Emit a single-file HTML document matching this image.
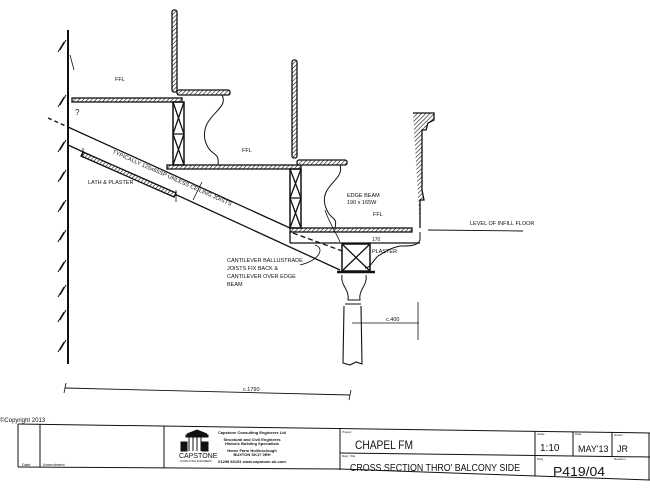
<!DOCTYPE html>
<html><head><style>
html,body{margin:0;padding:0;background:#fff;}
svg{display:block;}
text{font-family:"Liberation Sans",sans-serif;fill:#111;}
.h{font-family:"Liberation Sans",sans-serif;font-size:6px;}
</style></head><body>
<svg width="650" height="488" viewBox="0 0 650 488" xmlns="http://www.w3.org/2000/svg">
<defs>
<pattern id="hat" width="3" height="3" patternUnits="userSpaceOnUse" patternTransform="rotate(45)">
<rect width="3" height="3" fill="#fff"/><line x1="0" y1="0" x2="0" y2="3" stroke="#111" stroke-width="1.2"/></pattern>
</defs>
<g stroke="#111" fill="none" stroke-width="1.3">
<!-- wall -->
<line x1="68" y1="30" x2="68" y2="364" stroke-width="2"/>
<line x1="70" y1="55" x2="74" y2="70" stroke-width="0.8"/>
<g stroke-width="1">
<path d="M66 40l-6 10M64 42l-6 10M66 95l-6 10M64 97l-6 10M66 140l-6 10M64 142l-6 10M66 170l-6 10M64 172l-6 10M66 200l-6 10M64 202l-6 10M66 230l-6 10M64 232l-6 10M66 260l-6 10M64 262l-6 10M66 285l-6 10M64 287l-6 10M66 310l-6 10M64 312l-6 10M66 340l-6 10M64 342l-6 10"/>
</g>
<!-- floors -->
<rect x="72" y="98" width="110" height="4" fill="url(#hat)"/>
<rect x="167" y="165" width="134" height="4" fill="url(#hat)"/>
<rect x="290" y="228" width="122" height="4" fill="url(#hat)"/>
<!-- posts with X -->
<rect x="173" y="102" width="11" height="63" stroke-width="1.5"/>
<path d="M173 102L184 134M184 102L173 134M173 134L184 165M184 134L173 165M173 134H184"/>
<rect x="290" y="169" width="11" height="59" stroke-width="1.5"/>
<path d="M290 169L301 198M301 169L290 198M290 198L301 228M301 198L290 228M290 198H301"/>
<!-- seat backs -->
<rect x="172" y="10" width="5" height="82" fill="url(#hat)" rx="2"/>
<rect x="292" y="60" width="5" height="98" fill="url(#hat)" rx="2"/>
<rect x="177" y="90" width="53" height="5" fill="url(#hat)" rx="2"/>
<rect x="297" y="160" width="50" height="5" fill="url(#hat)" rx="2"/>
<path d="M222 95C230 110 200 115 205 140C210 158 220 150 218 165" stroke-width="1"/>
<path d="M340 165C345 180 320 185 325 205C330 222 338 215 335 228" stroke-width="1"/>
<!-- front wall -->
<path d="M413 113H434V120L428 123L426 130H422V190L424 200H420V228" fill="url(#hat)"/>
<path d="M420 232V240C418 246 410 246 400 246C390 248 385 252 378 256C372 262 370 268 365 268" stroke-width="1"/>
<line x1="290" y1="232" x2="290" y2="243"/>
<line x1="290" y1="243" x2="420" y2="243"/>
<!-- joists -->
<line x1="68" y1="127" x2="290" y2="228"/>
<line x1="68" y1="145" x2="340" y2="270"/>
<line x1="48" y1="118" x2="68" y2="127" stroke-dasharray="4 3"/>
<line x1="293" y1="233" x2="345" y2="252" stroke-dasharray="5 3"/>
<path d="M83 152L176 193L174 197L81 156Z" fill="url(#hat)"/>
<line x1="83" y1="148" x2="83" y2="158" stroke-width="0.8"/>
<line x1="176" y1="190" x2="176" y2="202" stroke-width="0.8"/>
<!-- box and column -->
<rect x="342" y="244" width="28" height="27" stroke-width="1.5"/>
<path d="M342 244L370 271M370 244L342 271"/>
<line x1="337" y1="272" x2="375" y2="272" stroke-width="2.5"/>
<path d="M342 275C340 285 350 290 348 300H360C358 290 368 285 366 275" stroke-width="1"/>
<path d="M345 304H361M344 306L343 363L350 365L356 362L362 364L361 306" stroke-width="1.1"/>
<!-- dimensions -->
<line x1="352" y1="323" x2="419" y2="323" stroke-width="0.8"/>
<line x1="418" y1="302" x2="418" y2="340" stroke-width="0.8"/>
<line x1="428" y1="230" x2="523" y2="231" stroke-width="0.9"/>
<line x1="65" y1="388" x2="350" y2="395" stroke-width="0.9"/>
<line x1="66" y1="383" x2="64" y2="393" stroke-width="0.8"/>
<line x1="351" y1="390" x2="349" y2="400" stroke-width="0.8"/>
<path d="M202 182L193 200M315 245C325 248 320 260 300 265M325 210C330 225 335 230 340 242" stroke-width="0.8"/>
<!-- title block -->
<g stroke-width="1">
<path d="M18 424L650 433"/>
<path d="M18 467L340 469L650 480"/>
<line x1="18" y1="424" x2="18" y2="467"/>
<line x1="40" y1="424" x2="40" y2="467"/>
<line x1="164" y1="426" x2="164" y2="468"/>
<line x1="340" y1="428" x2="340" y2="470"/>
<line x1="340" y1="453" x2="650" y2="457"/>
<line x1="535" y1="431" x2="535" y2="476"/>
<line x1="573" y1="432" x2="573" y2="456"/>
<line x1="612" y1="432" x2="612" y2="457"/>
<line x1="649" y1="433" x2="649" y2="480"/>
</g>
<!-- logo -->
<g stroke-width="1" fill="#111">
<path d="M187 434L197 430L207 434Z"/>
<rect x="186" y="435" width="22" height="2"/>
<rect x="181" y="442" width="6" height="9"/><rect x="202" y="442" width="6" height="9"/>
<path d="M189 437V451M193 437V451M197 437V451M201 437V451" fill="none"/>
</g>
</g>
<text x="0" y="422" class="h" font-size="4">©Copyright 2013</text>
<text x="22" y="466" font-size="4">Date</text>
<text x="43" y="466" font-size="4">Amendment</text>
<text x="179" y="458" font-size="7" font-family="Liberation Serif">CAPSTONE</text>
<text x="180" y="462" font-size="2.5">CONSULTING ENGINEERS</text>
<g font-size="4" font-family="Liberation Serif" text-anchor="middle" font-weight="bold">
<text x="252" y="434">Capstone Consulting Engineers Ltd</text>
<text x="252" y="441">Structural and Civil Engineers</text>
<text x="252" y="445">Historic Building Specialists</text>
<text x="252" y="452">Home Farm Hollinsclough</text>
<text x="252" y="456">BUXTON SK17 0RH</text>
<text x="252" y="463">01298 83151 www.capstone-uk.com</text>
</g>
<text x="342" y="433" font-size="3">Project</text>
<text x="342" y="457" font-size="3">Dwg. Title</text>
<text x="537" y="435" font-size="3">Scale</text>
<text x="575" y="435" font-size="3">Date</text>
<text x="614" y="436" font-size="3">Drawn</text>
<text x="537" y="460" font-size="3">Dwg</text>
<text x="614" y="460" font-size="3">Revision</text>
<g font-family="Liberation Sans">
<text x="355" y="449" font-size="12" textLength="58" lengthAdjust="spacingAndGlyphs">CHAPEL FM</text>
<text x="350" y="471" font-size="10" textLength="170" lengthAdjust="spacingAndGlyphs">CROSS SECTION THRO' BALCONY SIDE</text>
<text x="540" y="451" font-size="10">1:10</text>
<text x="578" y="452" font-size="9">MAY'13</text>
<text x="617" y="452" font-size="9">JR</text>
<text x="553" y="476" font-size="13" textLength="52" lengthAdjust="spacingAndGlyphs">P419/04</text>
</g>
<g font-size="5.5">
<text x="115" y="81">FFL</text>
<text x="242" y="152">FFL</text>
<text x="373" y="216">FFL</text>
<text x="75" y="115" font-size="8">?</text>
<text x="88" y="184">LATH &amp; PLASTER</text>
<text x="112" y="153" transform="rotate(24 112 153)" textLength="130" lengthAdjust="spacingAndGlyphs">TYPICALLY 125x65SP UNLESS   CEILING JOISTS</text>
<text x="347" y="197">EDGE BEAM</text>
<text x="347" y="204">190 x 165W</text>
<text x="470" y="225">LEVEL OF INFILL FLOOR</text>
<text x="372" y="253">PLASTER</text>
<text x="372" y="241" font-size="5">170</text>
<text x="227" y="262">CANTILEVER BALLUSTRADE</text>
<text x="227" y="270">JOISTS FIX BACK &amp;</text>
<text x="227" y="278">CANTILEVER OVER EDGE</text>
<text x="227" y="286">BEAM</text>
<text x="386" y="321">c.400</text>
<text x="243" y="391">c.1790</text>
</g>
</svg>
</body></html>
